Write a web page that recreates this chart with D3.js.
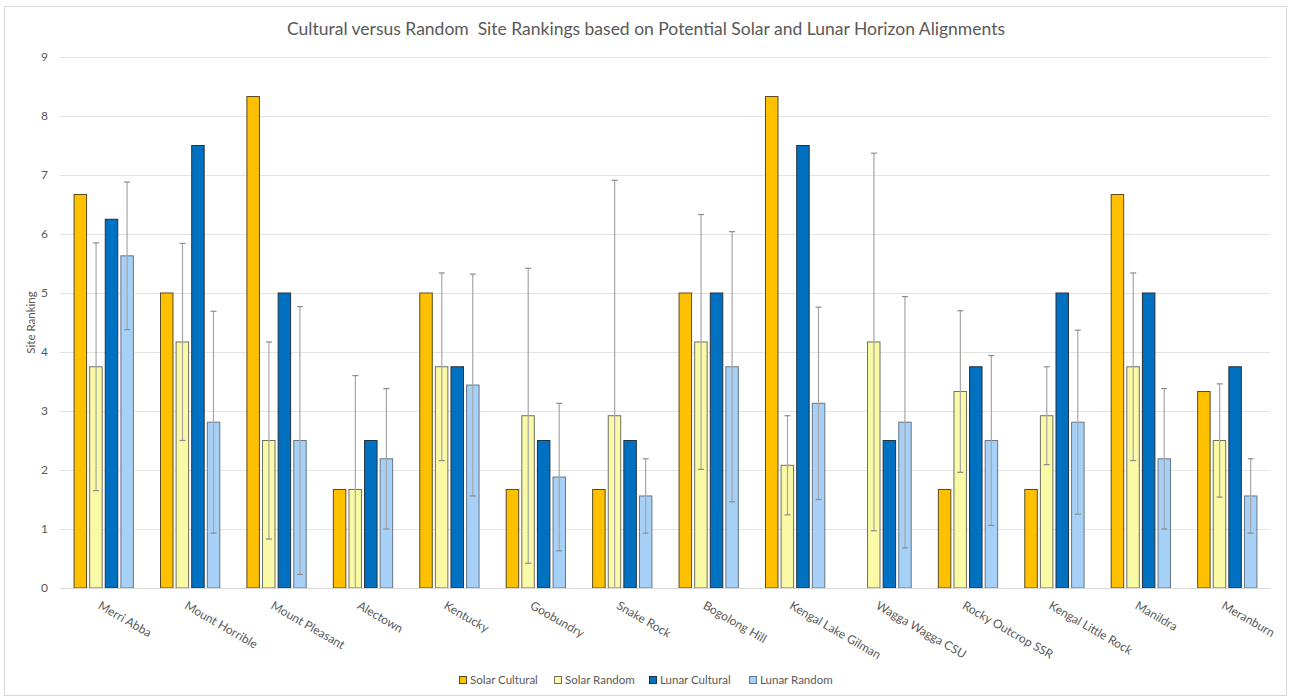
<!DOCTYPE html>
<html>
<head>
<meta charset="utf-8">
<script src="https://cdn.jsdelivr.net/npm/d3@7"></script>
<style>
  html, body { margin: 0; padding: 0; background: #fff; }
  svg { display: block; }
  text { font-family: Lato, "Open Sans", sans-serif; fill: #595959; }
</style>
</head>
<body>
<svg id="chart" width="1289" height="697"></svg>
<script>
const categories = ["Merri Abba", "Mount Horrible", "Mount Pleasant", "Alectown", "Kentucky", "Goobundry", "Snake Rock", "Bogolong Hill", "Kengal Lake Gilman", "Wagga Wagga CSU", "Rocky Outcrop SSR", "Kengal Little Rock", "Manildra", "Meranburn"];
const seriesNames = ["Solar Cultural", "Solar Random", "Lunar Cultural", "Lunar Random"];
const solarCultural = [6.67, 5.00, 8.33, 1.67, 5.00, 1.67, 1.67, 5.00, 8.33, 0, 1.67, 1.67, 6.67, 3.33];
const solarRandom   = [3.75, 4.17, 2.50, 1.67, 3.75, 2.92, 2.92, 4.17, 2.08, 4.17, 3.33, 2.92, 3.75, 2.50];
const lunarCultural = [6.25, 7.50, 5.00, 2.50, 3.75, 2.50, 2.50, 5.00, 7.50, 2.50, 3.75, 5.00, 5.00, 3.75];
const lunarRandom   = [5.63, 2.81, 2.50, 2.19, 3.44, 1.88, 1.56, 3.75, 3.13, 2.81, 2.50, 2.81, 2.19, 1.56];
const solarRandomErr = [2.10, 1.67, 1.67, 1.93, 1.59, 2.50, 3.99, 2.16, 0.84, 3.20, 1.37, 0.83, 1.59, 0.96];
const lunarRandomErr = [1.25, 1.88, 2.27, 1.19, 1.88, 1.25, 0.63, 2.29, 1.63, 2.13, 1.44, 1.56, 1.19, 0.63];
const yTicks = [0, 1, 2, 3, 4, 5, 6, 7, 8, 9];
const titleText = "Cultural versus Random  Site Rankings based on Potential Solar and Lunar Horizon Alignments";
const yTitle = "Site Ranking";

const seriesValues = [solarCultural, solarRandom, lunarCultural, lunarRandom];
const seriesErrors = [null, solarRandomErr, null, lunarRandomErr];
const colors = ["#FFC000", "#FAFAA6", "#0070C0", "#A6D0F5"];
const strokes = ["#5a4a20", "#6f6f60", "#22323f", "#66768a"];

const svg = d3.select("#chart");

// outer frame
svg.append("rect").attr("x", 4.5).attr("y", 6.5).attr("width", 1282).attr("height", 689)
  .attr("fill", "#fff").attr("stroke", "#D9D9D9").attr("stroke-width", 1);

const plot = { left: 60, right: 1270, top: 57, bottom: 588 };

const y = d3.scaleLinear().domain([0, 9]).range([plot.bottom, plot.top]);
const x0 = d3.scaleBand().domain(categories).range([plot.left, plot.right])
  .paddingInner(0.314).paddingOuter(0.157);
const x1 = d3.scaleBand().domain(seriesNames).range([0, x0.bandwidth()]).paddingInner(0.2);

// gridlines
svg.append("g").selectAll("line").data(yTicks.filter(d => d > 0)).join("line")
  .attr("x1", plot.left).attr("x2", plot.right)
  .attr("y1", d => Math.round(y(d)) + 0.5).attr("y2", d => Math.round(y(d)) + 0.5)
  .attr("stroke", "#E3E3E3").attr("stroke-width", 1);

// y axis labels
const yAxis = d3.axisLeft(y).tickValues(yTicks).tickSize(0).tickPadding(0).tickFormat(d3.format("d"));
const gy = svg.append("g").attr("transform", `translate(${plot.left - 12},0)`).call(yAxis);
gy.select(".domain").remove();
gy.selectAll("text").style("font-family", "Lato, sans-serif").style("font-size", "12px").attr("fill", "#595959");

// y title
svg.append("text").attr("transform", `translate(35,${(plot.top + plot.bottom) / 2}) rotate(-90)`)
  .attr("text-anchor", "middle").style("font-size", "11.5px").text(yTitle);

// bars
const groups = svg.append("g").selectAll("g").data(categories).join("g")
  .attr("transform", d => `translate(${x0(d)},0)`);

const barData = (c, i) => seriesNames.map((s, k) => ({ s, k, v: seriesValues[k][i], e: seriesErrors[k] ? seriesErrors[k][i] : null }));

groups.selectAll("rect").data(barData).join("rect")
  .filter(d => d.v > 0)
  .attr("x", d => x1(d.s) + 0.5)
  .attr("y", d => y(d.v))
  .attr("width", x1.bandwidth())
  .attr("height", d => y(0) - y(d.v))
  .attr("fill", d => colors[d.k])
  .attr("stroke", d => strokes[d.k])
  .attr("stroke-width", 1);

// error bars
groups.each(function(c, i) {
  const g = d3.select(this);
  barData(c, i).filter(d => d.e !== null).forEach(d => {
    const cx = Math.round(x1(d.s) + x1.bandwidth() / 2) + 0.5;
    const hi = d.v + d.e, lo = d.v - d.e;
    const yHi = y(hi), yLo = y(Math.max(0, lo));
    g.append("line").attr("x1", cx).attr("x2", cx).attr("y1", yHi).attr("y2", yLo)
      .attr("stroke", "#A6A6A6").attr("stroke-width", 1.2);
    g.append("line").attr("x1", cx - 3).attr("x2", cx + 3).attr("y1", yHi).attr("y2", yHi)
      .attr("stroke", "#8C8C8C").attr("stroke-width", 1.2);
    if (lo > 0) {
      g.append("line").attr("x1", cx - 3).attr("x2", cx + 3).attr("y1", yLo).attr("y2", yLo)
        .attr("stroke", "#8C8C8C").attr("stroke-width", 1.2);
    }
  });
});

// x axis baseline
svg.append("line").attr("x1", plot.left).attr("x2", plot.right)
  .attr("y1", plot.bottom + 0.5).attr("y2", plot.bottom + 0.5)
  .attr("stroke", "#D9D9D9").attr("stroke-width", 1);

// x labels
svg.append("g").selectAll("text").data(categories).join("text")
  .attr("transform", d => `translate(${x0(d) + x0.bandwidth() / 2 - 6},608) rotate(30)`)
  .attr("text-anchor", "start")
  .style("font-size", "12px")
  .text(d => d);

// title
svg.append("text").attr("x", 646).attr("y", 35).attr("text-anchor", "middle")
  .attr("xml:space", "preserve").style("white-space", "pre")
  .style("font-size", "17.5px").text(titleText);

// legend
const legendX = [459, 554, 649, 749];
const lg = svg.append("g").selectAll("g").data(seriesNames).join("g")
  .attr("transform", (d, k) => `translate(${legendX[k]},680)`);
lg.append("rect").attr("x", 0.5).attr("y", -3.5).attr("width", 7).attr("height", 7)
  .attr("fill", (d, k) => colors[k]).attr("stroke", (d, k) => strokes[k]).attr("stroke-width", 1);
lg.append("text").attr("x", 11).attr("y", 4).style("font-size", "11.5px").text(d => d);
</script>
</body>
</html>
